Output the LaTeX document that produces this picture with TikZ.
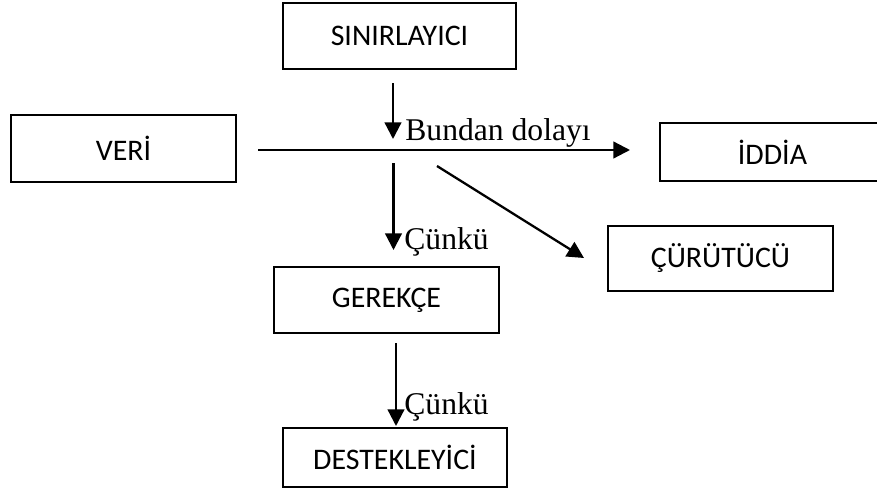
\documentclass[tikz,border=0pt]{standalone}
\usepackage{fontspec}
\setmainfont{Liberation Serif}
\newfontfamily\boxfont{Carlito}
\usetikzlibrary{arrows.meta}
\tikzset{
    plain-box/.style = {draw, line width=1.3pt, rectangle, inner sep=0pt, font=\boxfont\fontsize{17}{20}\selectfont},
    link/.style = {line width=1.3pt, -{Triangle[length=9.5pt,width=9.5pt]}},
    link-label/.style = {anchor=base west, inner sep=0pt, font=\fontsize{18}{21}\selectfont},
}

\begin{document}
\begin{tikzpicture}[x=0.02cm,y=-0.02cm]
\useasboundingbox (0,0) rectangle (877,490);
\clip (0,0) rectangle (877,490);
% boxes
\node[plain-box, minimum width=4.66cm, minimum height=1.32cm] (sinir) at (399.5,36) {SINIRLAYICI};
\node[plain-box, minimum width=4.5cm, minimum height=1.34cm] (veri) at (123.5,148.5) {VER\.I};
\node[plain-box, minimum width=4.5cm, minimum height=1.16cm] (iddia) at (772.5,152) {\.IDD\.IA};
\node[plain-box, minimum width=4.5cm, minimum height=1.3cm] (curut) at (720.5,258.5) {ÇÜRÜTÜCÜ};
\node[plain-box, minimum width=4.5cm, minimum height=1.32cm] (gerekce) at (386.5,300) {GEREKÇE};
\node[plain-box, minimum width=4.48cm, minimum height=1.18cm] (destek) at (395,457.5) {DESTEKLEY\.IC\.I};
% arrow ends
\coordinate (sinir-out) at (393,83);
\coordinate (main-top) at (393,139);
\coordinate (main-start) at (258,150);
\coordinate (main-end) at (630,150);
\coordinate (main-low) at (393.5,163);
\coordinate (gerekce-in) at (393.5,250);
\coordinate (diag-start) at (437,166);
\coordinate (curut-in) at (584,258);
\coordinate (gerekce-out) at (396,343);
\coordinate (destek-in) at (396,426);
% connectors
\draw[link] (sinir-out) -- (main-top);
\draw[link] (main-start) -- (main-end);
\draw[link] (main-low) -- (gerekce-in);
\draw[link] (diag-start) -- (curut-in);
\draw[link] (gerekce-out) -- (destek-in);
% labels
\node[link-label] (bundan) at (405,140) {Bundan dolayı};
\node[link-label] (cunku-a) at (404,249) {Çünkü};
\node[link-label] (cunku-b) at (404,414) {Çünkü};
\end{tikzpicture}
\end{document}
